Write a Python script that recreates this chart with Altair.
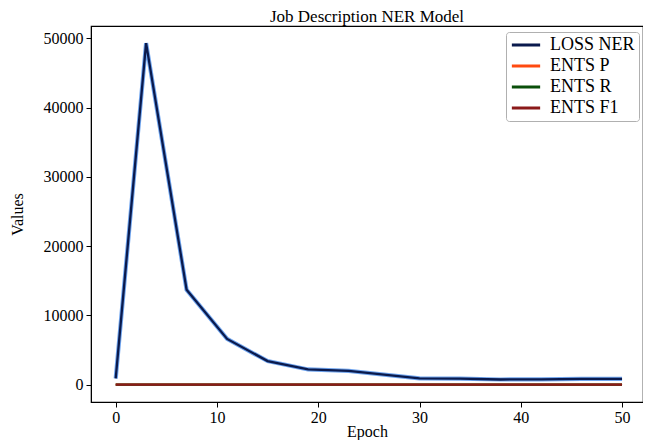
import altair as alt
import pandas as pd

epochs = [0, 3, 7, 11, 15, 19, 23, 30, 34, 38, 42, 46, 50]
loss_ner = [900, 49300, 13700, 6600, 3400, 2200, 2000, 900, 880, 750, 780, 850, 850]
ents_p = [0.0, 0.1, 0.3, 0.5, 0.6, 0.7, 0.7, 0.8, 0.8, 0.8, 0.8, 0.8, 0.8]
ents_r = [0.0, 0.1, 0.2, 0.4, 0.5, 0.6, 0.7, 0.7, 0.8, 0.8, 0.8, 0.8, 0.8]
ents_f1 = [0.0, 0.1, 0.2, 0.4, 0.5, 0.6, 0.7, 0.7, 0.8, 0.8, 0.8, 0.8, 0.8]

series_names = ["LOSS NER", "ENTS P", "ENTS R", "ENTS F1"]
series_colors = ["#0a1a4d", "#ff4a10", "#0a4f0a", "#8b1a1a"]

rows = []
for name, vals in zip(series_names, [loss_ner, ents_p, ents_r, ents_f1]):
    for e, v in zip(epochs, vals):
        rows.append({"Epoch": e, "Value": v, "Series": name})
df = pd.DataFrame(rows)

font = "Liberation Serif"

xscale = alt.Scale(domain=[-2.44, 52.07], nice=False, zero=False)
yscale = alt.Scale(domain=[-2500, 51775], nice=False, zero=False)

xaxis = alt.Axis(values=[0, 10, 20, 30, 40, 50], grid=False, tickSize=5, format="d",
                 labelFont=font, titleFont=font,
                 labelFontSize=16, titleFontSize=16, titleFontWeight="normal",
                 labelPadding=2, titleY=34, titleBaseline="alphabetic", domainColor="black",
                 tickColor="black", labelColor="black", titleColor="black")
yaxis = alt.Axis(values=[0, 10000, 20000, 30000, 40000, 50000], grid=False, tickSize=5,
                 format="d", labelFont=font, titleFont=font,
                 labelFontSize=16, titleFontSize=16, titleFontWeight="normal",
                 labelPadding=3, titlePadding=18, domainColor="black",
                 tickColor="black", labelColor="black", titleColor="black")

halo = alt.Chart(df).transform_filter(alt.datum.Series == "LOSS NER").mark_line(
    strokeWidth=4.2, color="#3f86e8", opacity=0.75
).encode(
    x=alt.X("Epoch:Q", title="Epoch", scale=xscale, axis=xaxis),
    y=alt.Y("Value:Q", title="Values", scale=yscale, axis=yaxis),
    order=alt.Order("Epoch:Q"),
)

lines = alt.Chart(df).mark_line(strokeWidth=2.3).encode(
    x=alt.X("Epoch:Q", title="Epoch", scale=xscale, axis=xaxis),
    y=alt.Y("Value:Q", title="Values", scale=yscale, axis=yaxis),
    color=alt.Color("Series:N", sort=series_names,
                    scale=alt.Scale(domain=series_names, range=series_colors),
                    legend=alt.Legend(title=None, orient="none", legendX=415, legendY=6,
                                      symbolType="stroke", symbolSize=800, symbolStrokeWidth=3,
                                      labelFontSize=18, labelFont=font, labelColor="black",
                                      labelOffset=8, strokeColor="#b0b0b0", padding=4,
                                      clipHeight=18,
                                      cornerRadius=3, rowPadding=3, fillColor="white")),
    order=alt.Order("Epoch:Q"),
)

chart = alt.layer(halo, lines).properties(
    width=552, height=376,
    background="white",
    title=alt.Title("Job Description NER Model", fontSize=17, fontWeight="normal", font=font,
                    color="black", offset=0),
    autosize=alt.AutoSizeParams(type="none"),
    padding={"left": 83, "top": 18, "right": 0, "bottom": 38},
).configure_view(stroke="black", strokeWidth=1.2)

chart.save("out.html", embed_options={"renderer": "svg", "actions": False})
